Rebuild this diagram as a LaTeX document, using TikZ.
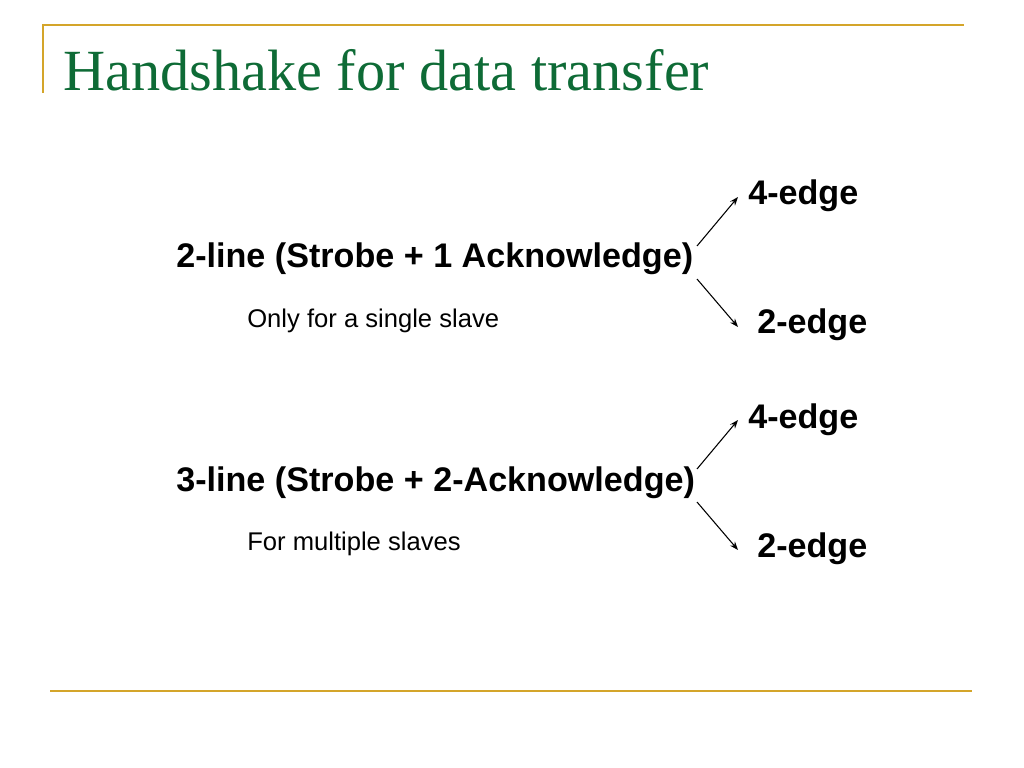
\documentclass[tikz,border=0pt]{standalone}
\usepackage{fontspec}
\setmainfont{Liberation Serif}
\newfontfamily\arialf{Liberation Sans}
\usetikzlibrary{arrows.meta}
\definecolor{rulegold}{HTML}{D4A52A}
\definecolor{titlegreen}{HTML}{0E6B36}
\tikzset{
  rulestyle/.style={draw=rulegold, line width=1.6pt},
  titlestyle/.style={anchor=base west, inner sep=0, text=titlegreen, font=\fontsize{41}{49}\selectfont},
  mainstyle/.style={anchor=base west, inner sep=0, font=\arialf\bfseries\fontsize{24}{29}\selectfont},
  substyle/.style={anchor=base west, inner sep=0, font=\arialf\fontsize{18}{22}\selectfont},
  arrowstyle/.style={draw, line width=0.75pt, -{Stealth[length=6pt,width=4.5pt]}}
}
\begin{document}
\begin{tikzpicture}[x=0.703125pt, y=-0.703125pt]
\useasboundingbox (0,0) rectangle (1024,768);
% rules
\coordinate (tl) at (43,25);
\coordinate (tr) at (964,25);
\coordinate (lb) at (43,93);
\coordinate (bl) at (50,691);
\coordinate (br) at (972,691);
\draw[rulestyle] (lb) -- (tl) -- (tr);
\draw[rulestyle] (bl) -- (br);
% title
\node[titlestyle] (title) at (63,91) {Handshake for data transfer};
% group 1
\node[mainstyle] (line2) at (176,268) {2-line (Strobe + 1 Acknowledge)};
\node[substyle] (single) at (247,327) {Only for a single slave};
\node[mainstyle] (e4a) at (748,205) {4-edge};
\node[mainstyle] (e2a) at (757,334) {2-edge};
\coordinate (a1s) at (697,246);
\coordinate (a1e) at (738,197);
\coordinate (a2s) at (697,279);
\coordinate (a2e) at (738,327);
\draw[arrowstyle] (a1s) -- (a1e);
\draw[arrowstyle] (a2s) -- (a2e);
% group 2
\node[mainstyle] (line3) at (176,491) {3-line (Strobe + 2-Acknowledge)};
\node[substyle] (multi) at (247,550) {For multiple slaves};
\node[mainstyle] (e4b) at (748,428) {4-edge};
\node[mainstyle] (e2b) at (757,557) {2-edge};
\coordinate (b1s) at (697,469);
\coordinate (b1e) at (738,420);
\coordinate (b2s) at (697,502);
\coordinate (b2e) at (738,550);
\draw[arrowstyle] (b1s) -- (b1e);
\draw[arrowstyle] (b2s) -- (b2e);
\end{tikzpicture}
\end{document}
